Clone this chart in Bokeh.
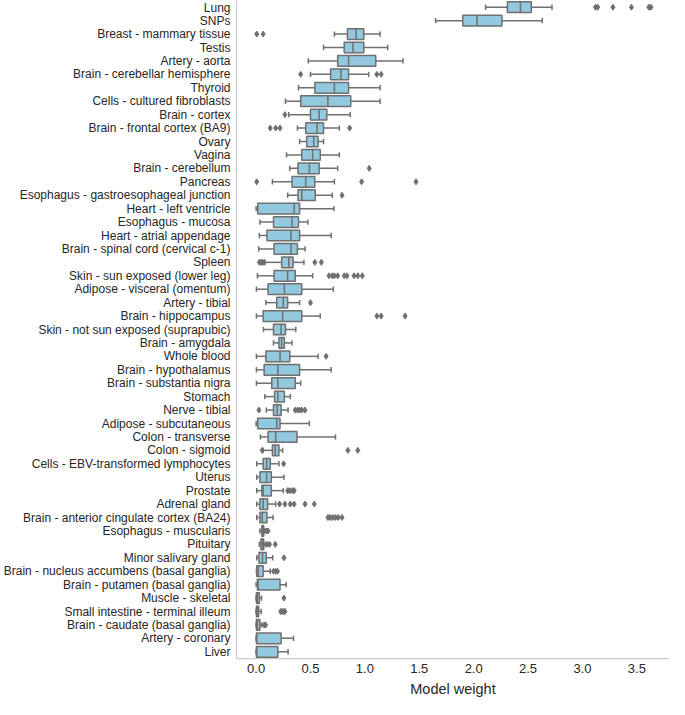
from bokeh.plotting import figure
from bokeh.models import FactorRange, Range1d, FixedTicker, NumeralTickFormatter, ColumnDataSource
from bokeh.embed import file_html
from bokeh.resources import INLINE

tissues = [
    "Lung", "SNPs", "Breast - mammary tissue", "Testis", "Artery - aorta",
    "Brain - cerebellar hemisphere", "Thyroid", "Cells - cultured fibroblasts",
    "Brain - cortex", "Brain - frontal cortex (BA9)", "Ovary", "Vagina",
    "Brain - cerebellum", "Pancreas", "Esophagus - gastroesophageal junction",
    "Heart - left ventricle", "Esophagus - mucosa", "Heart - atrial appendage",
    "Brain - spinal cord (cervical c-1)", "Spleen", "Skin - sun exposed (lower leg)",
    "Adipose - visceral (omentum)", "Artery - tibial", "Brain - hippocampus",
    "Skin - not sun exposed (suprapubic)", "Brain - amygdala", "Whole blood",
    "Brain - hypothalamus", "Brain - substantia nigra", "Stomach", "Nerve - tibial",
    "Adipose - subcutaneous", "Colon - transverse", "Colon - sigmoid",
    "Cells - EBV-transformed lymphocytes", "Uterus", "Prostate", "Adrenal gland",
    "Brain - anterior cingulate cortex (BA24)", "Esophagus - muscularis", "Pituitary",
    "Minor salivary gland", "Brain - nucleus accumbens (basal ganglia)",
    "Brain - putamen (basal ganglia)", "Muscle - skeletal",
    "Small intestine - terminal illeum", "Brain - caudate (basal ganglia)",
    "Artery - coronary", "Liver",
]

whisker_low = [2.11, 1.65, 0.72, 0.62, 0.48, 0.50, 0.39, 0.27, 0.30, 0.38, 0.40, 0.28,
               0.31, 0.15, 0.29, 0.0, 0.035, 0.03, 0.024, 0.08, 0.012, 0.003, 0.09, 0.003,
               0.068, 0.16, 0.003, 0.003, 0.003, 0.08, 0.094, 0.0, 0.04, 0.065, 0.006,
               0.006, 0.006, 0.006, 0.006, 0.035, 0.03, 0.006, 0.003, 0.0, 0.0, 0.0, 0.0,
               0.0, 0.0]
q1 = [2.31, 1.90, 0.84, 0.81, 0.75, 0.685, 0.54, 0.41, 0.50, 0.456, 0.465, 0.42,
      0.385, 0.33, 0.385, 0.015, 0.16, 0.10, 0.165, 0.235, 0.165, 0.11, 0.19, 0.065,
      0.16, 0.21, 0.09, 0.074, 0.144, 0.17, 0.16, 0.015, 0.11, 0.15, 0.065,
      0.035, 0.053, 0.035, 0.035, 0.053, 0.044, 0.026, 0.006, 0.012, 0.003, 0.003, 0.003,
      0.003, 0.003]
median = [2.43, 2.03, 0.92, 0.89, 0.85, 0.78, 0.72, 0.66, 0.58, 0.56, 0.53, 0.52,
          0.49, 0.456, 0.42, 0.35, 0.33, 0.32, 0.32, 0.30, 0.29, 0.26, 0.25, 0.244,
          0.23, 0.235, 0.22, 0.20, 0.20, 0.20, 0.194, 0.19, 0.18, 0.176, 0.097,
          0.097, 0.065, 0.065, 0.056, 0.06, 0.059, 0.059, 0.02, 0.018, 0.012, 0.01, 0.012,
          0.006, 0.006]
q3 = [2.53, 2.26, 0.99, 0.99, 1.10, 0.85, 0.85, 0.87, 0.65, 0.62, 0.57, 0.59,
      0.58, 0.54, 0.544, 0.40, 0.39, 0.40, 0.38, 0.34, 0.36, 0.42, 0.29, 0.42,
      0.27, 0.26, 0.31, 0.40, 0.36, 0.26, 0.23, 0.22, 0.376, 0.21, 0.13,
      0.14, 0.14, 0.106, 0.10, 0.07, 0.07, 0.094, 0.065, 0.22, 0.03, 0.024, 0.035,
      0.23, 0.20]
whisker_high = [2.72, 2.63, 1.14, 1.21, 1.35, 1.035, 1.14, 1.14, 0.865, 0.765, 0.62, 0.765,
                0.75, 0.72, 0.70, 0.715, 0.476, 0.69, 0.45, 0.44, 0.52, 0.71, 0.40, 0.59,
                0.365, 0.33, 0.57, 0.69, 0.41, 0.315, 0.294, 0.49, 0.73, 0.244, 0.21,
                0.256, 0.25, 0.18, 0.156, 0.08, 0.082, 0.153, 0.13, 0.276, 0.05, 0.047, 0.05,
                0.344, 0.294]
outliers = [
    [3.12, 3.14, 3.28, 3.45, 3.61, 3.63], [], [0.006, 0.065], [], [],
    [0.41, 1.11, 1.15], [], [], [0.265], [0.13, 0.18, 0.22, 0.86], [], [],
    [1.04], [0.006, 0.97, 1.47], [0.79], [], [], [], [],
    [0.03, 0.045, 0.06, 0.075, 0.54, 0.60],
    [0.67, 0.70, 0.72, 0.75, 0.81, 0.835, 0.90, 0.935, 0.976],
    [], [0.50], [1.11, 1.15, 1.37], [], [], [0.644], [], [], [],
    [0.026, 0.36, 0.38, 0.40, 0.42, 0.45], [], [], [0.056, 0.844, 0.935],
    [0.253], [], [0.29, 0.31, 0.335, 0.35],
    [0.215, 0.265, 0.315, 0.35, 0.45, 0.535],
    [0.66, 0.68, 0.705, 0.73, 0.755, 0.79],
    [0.094, 0.11], [0.10, 0.124, 0.176], [0.256], [0.16, 0.18, 0.197], [],
    [0.256], [0.226, 0.24, 0.256, 0.265], [0.074, 0.088], [], [],
]

tick_values = [0.0, 0.5, 1.0, 1.5, 2.0, 2.5, 3.0, 3.5]

BOX_FILL = "#93c9df"
GRAY = "#6f6f6f"
TEXT = "#262626"
SPINE = "#cccccc"
FONT = "Liberation Sans"

src = ColumnDataSource(dict(
    y=tissues, wlo=whisker_low, q1=q1, med=median, q3=q3, whi=whisker_high,
    cap_lo=[(t, -0.2) for t in tissues], cap_hi=[(t, 0.2) for t in tissues],
    box_lo=[(t, -0.4) for t in tissues], box_hi=[(t, 0.4) for t in tissues],
))

out_y, out_x = [], []
for t, vals in zip(tissues, outliers):
    for v in vals:
        out_y.append(t)
        out_x.append(v)

p = figure(width=669, height=699, output_backend="svg", toolbar_location=None,
           y_range=FactorRange(*reversed(tissues)), x_range=Range1d(-0.18, 3.80),
           min_border_top=0, min_border_right=0, min_border_left=0, min_border_bottom=0)

# whiskers
p.segment(x0="wlo", x1="q1", y0="y", y1="y", source=src, line_color=GRAY, line_width=1.5)
p.segment(x0="q3", x1="whi", y0="y", y1="y", source=src, line_color=GRAY, line_width=1.5)
# caps
p.segment(x0="wlo", x1="wlo", y0="cap_lo", y1="cap_hi", source=src, line_color=GRAY, line_width=1.5)
p.segment(x0="whi", x1="whi", y0="cap_lo", y1="cap_hi", source=src, line_color=GRAY, line_width=1.5)
# boxes
p.hbar(y="y", left="q1", right="q3", height=0.8, source=src,
       fill_color=BOX_FILL, line_color=GRAY, line_width=1.5)
# medians
p.segment(x0="med", x1="med", y0="box_lo", y1="box_hi", source=src, line_color=GRAY, line_width=1.5)
# outliers
p.scatter(x=out_x, y=out_y, marker="diamond", size=6, fill_color=GRAY, line_color=GRAY)

p.outline_line_color = None
p.background_fill_color = "white"
p.border_fill_color = "white"
p.xgrid.visible = False
p.ygrid.visible = False

for ax in (p.xaxis[0], p.yaxis[0]):
    ax.axis_line_color = SPINE
    ax.axis_line_width = 1.25
    ax.major_tick_line_color = None
    ax.minor_tick_line_color = None
    ax.major_tick_out = 0
    ax.major_tick_in = 0
    ax.major_label_text_font = FONT
    ax.major_label_text_color = TEXT

p.xaxis.ticker = FixedTicker(ticks=tick_values)
p.xaxis.formatter = NumeralTickFormatter(format="0.0")
p.xaxis.major_label_text_font_size = "13px"
p.xaxis.major_label_standoff = 5
p.xaxis.axis_label = "Model weight"
p.xaxis.axis_label_text_font = FONT
p.xaxis.axis_label_text_font_style = "normal"
p.xaxis.axis_label_text_font_size = "14.5px"
p.xaxis.axis_label_text_color = TEXT
p.xaxis.axis_label_standoff = 5

p.yaxis.major_label_text_font_size = "12px"
p.yaxis.major_label_standoff = 6

open("out.html", "w").write(file_html(p, INLINE))
